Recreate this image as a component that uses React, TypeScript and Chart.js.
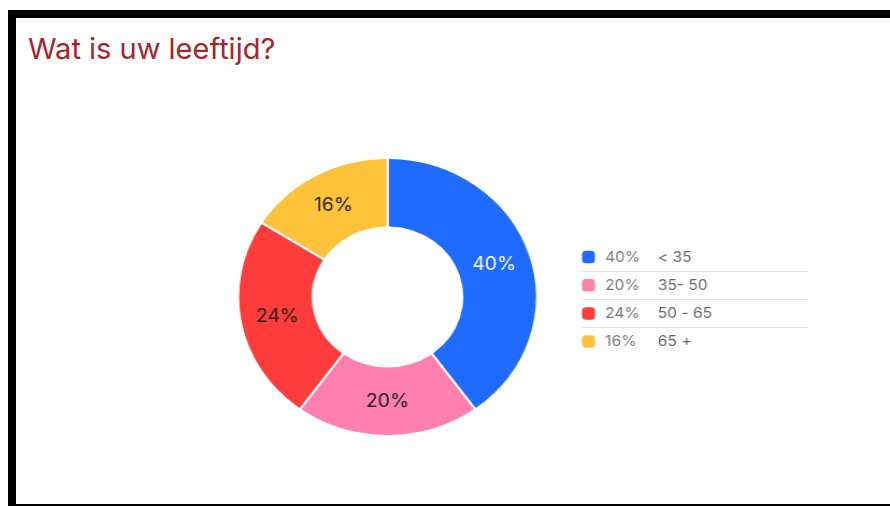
import React, { useEffect, useRef } from "react";
import { Chart, registerables } from "chart.js";

Chart.register(...registerables);

const title = "Wat is uw leeftijd?";
const categories = ["< 35", "35- 50", "50 - 65", "65 +"];
const values = [40, 20, 24, 16];
const percentLabels = ["40%", "20%", "24%", "16%"];
const colors = ["#1F6BFF", "#FF80AE", "#FF3C3C", "#FFC23B"];
const labelColors = ["#FFFFFF", "#1E1E1E", "#1E1E1E", "#1E1E1E"];

const FONT = "Inter, 'Open Sans', sans-serif";
const SX = 1.075; // horizontal stretch of the reference picture
const CW = 813;
const CH = 486;

const sliceLabelPlugin = {
  id: "sliceLabels",
  afterDatasetsDraw(chart: any) {
    const ctx = chart.ctx;
    const meta = chart.getDatasetMeta(0);
    ctx.save();
    ctx.font = `18px ${FONT}`;
    ctx.textAlign = "center";
    ctx.textBaseline = "middle";
    meta.data.forEach((arc: any, i: number) => {
      const p = arc.tooltipPosition(false);
      ctx.fillStyle = labelColors[i];
      ctx.fillText(percentLabels[i], p.x, p.y);
    });
    ctx.restore();
  },
};

const legendPlugin = {
  id: "customLegend",
  afterDraw(chart: any) {
    const ctx = chart.ctx;
    const x0 = 526.5;
    const y0 = 239;
    const step = 28.2;
    const sz = 12.5;
    ctx.save();
    categories.forEach((cat, i) => {
      const cy = y0 + i * step;
      ctx.fillStyle = colors[i];
      ctx.beginPath();
      (ctx as any).roundRect(x0, cy - sz / 2, sz - 0.5, sz, 3.5);
      ctx.fill();
      ctx.font = `14.5px ${FONT}`;
      ctx.textBaseline = "middle";
      ctx.textAlign = "left";
      ctx.fillStyle = "#777777";
      ctx.fillText(percentLabels[i], 548, cy + 0.5);
      ctx.fillStyle = "#666666";
      ctx.fillText(cat, 597, cy + 0.5);
      if (i < categories.length - 1) {
        const ly = Math.round(cy + 13.8) + 0.5;
        ctx.strokeStyle = "#E2E2E2";
        ctx.lineWidth = 1;
        ctx.beginPath();
        ctx.moveTo(x0, ly);
        ctx.lineTo(736.7, ly);
        ctx.stroke();
      }
    });
    ctx.restore();
  },
};

export default function App() {
  const ref = useRef<HTMLCanvasElement | null>(null);

  useEffect(() => {
    if (!ref.current) return;
    const chart = new Chart(ref.current, {
      type: "doughnut",
      data: {
        labels: categories,
        datasets: [
          {
            data: values,
            backgroundColor: colors,
            borderColor: "#FFFFFF",
            borderWidth: 2,
            borderRadius: 2,
          },
        ],
      },
      options: {
        responsive: false,
        animation: false,
        cutout: "50%",
        layout: { padding: { left: 205.6, right: 327.4, top: 157 - 18, bottom: 67 } },
        plugins: {
          legend: { display: false },
          tooltip: { enabled: false },
        },
      },
      plugins: [sliceLabelPlugin, legendPlugin],
    });
    return () => chart.destroy();
  }, []);

  return (
    <div
      style={{
        position: "absolute",
        left: 8,
        top: 10,
        width: 882,
        height: 496,
        boxSizing: "border-box",
        borderTop: "8px solid #000",
        borderLeft: "8px solid #000",
        borderBottom: "2px solid #000",
        background: "#fff",
        overflow: "hidden",
      }}
    >
      <div
        style={{
          position: "absolute",
          left: 12,
          top: 16,
          fontFamily: FONT,
          fontSize: 29,
          lineHeight: "29px",
          color: "#A5262C",
          whiteSpace: "nowrap",
        }}
      >
        {title}
      </div>
      <div
        style={{
          position: "absolute",
          left: 0,
          top: 0,
          width: CW,
          height: CH,
          transform: `scaleX(${SX})`,
          transformOrigin: "0 0",
        }}
      >
        <canvas ref={ref} width={CW} height={CH} style={{ width: CW, height: CH, display: "block" }} />
      </div>
    </div>
  );
}
